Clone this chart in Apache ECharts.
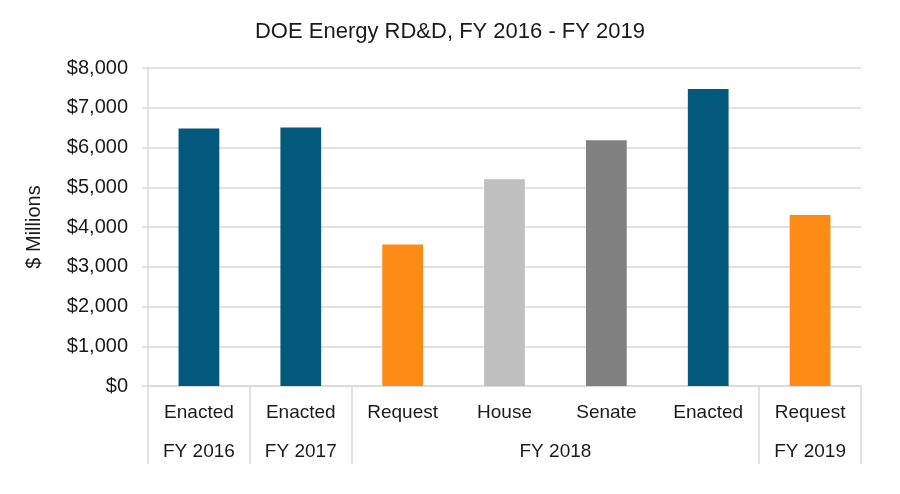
<!DOCTYPE html>
<html>
<head>
<meta charset="utf-8">
<script src="https://cdn.jsdelivr.net/npm/echarts@6/dist/echarts.min.js"></script>
<style>
html,body{margin:0;padding:0;background:#fff;}
#chart{width:900px;height:494px;}
</style>
</head>
<body>
<div id="chart"></div>
<script>
// ---- data ----
var titleText = 'DOE Energy RD&D, FY 2016 - FY 2019';
var categories = ['Enacted', 'Enacted', 'Request', 'House', 'Senate', 'Enacted', 'Request'];
var values = [6479, 6504, 3557, 5200, 6184, 7471, 4302];
var barColors = ['#02597c', '#02597c', '#fd8c16', '#bfbfbf', '#808080', '#02597c', '#fd8c16'];
var groupLabels = ['FY 2016', 'FY 2017', 'FY 2018', 'FY 2019'];
var groupSpans = [1, 1, 4, 1];
var yTicks = { min: 0, max: 8000, interval: 1000 };
var yName = '$ Millions';

// ---- build group axis (half-category slots) ----
var slots = [];
var boundaries = [];
for (var i = 0; i <= categories.length * 2; i++) slots.push('');
var start = 0;
boundaries.push(0);
for (var g = 0; g < groupLabels.length; g++) {
  var end = start + groupSpans[g];
  slots[start + end] = groupLabels[g];
  boundaries.push(end * 2);
  start = end;
}

var font = '"Liberation Sans", Arial, sans-serif';
var chart = echarts.init(document.getElementById('chart'));
chart.setOption({
  animation: false,
  title: {
    text: titleText,
    left: 'center',
    top: 16,
    textStyle: { fontFamily: font, fontSize: 22, fontWeight: 'normal', color: '#1a1a1a' }
  },
  grid: { left: 148, right: 39, top: 68, bottom: 108, containLabel: false, outerBoundsMode: 'none' },
  xAxis: [{
    type: 'category',
    data: categories,
    position: 'bottom',
    axisLine: { show: true, lineStyle: { color: '#d9d9d9', width: 1.5 } },
    axisTick: { show: false },
    axisLabel: { interval: 0, margin: 17, fontFamily: font, fontSize: 19, color: '#1a1a1a' }
  }, {
    type: 'category',
    data: slots,
    boundaryGap: false,
    position: 'bottom',
    axisLine: { show: false },
    axisTick: {
      show: true,
      length: 78,
      interval: function (index) { return boundaries.indexOf(index) >= 0; },
      lineStyle: { color: '#d9d9d9', width: 1.5 }
    },
    axisLabel: { interval: 0, margin: 56, fontFamily: font, fontSize: 19, color: '#1a1a1a' }
  }],
  yAxis: {
    type: 'value',
    min: yTicks.min,
    max: yTicks.max,
    interval: yTicks.interval,
    name: yName,
    nameLocation: 'middle',
    nameGap: 104,
    nameTextStyle: { fontFamily: font, fontSize: 20, color: '#1a1a1a' },
    axisLine: { show: true, lineStyle: { color: '#d9d9d9', width: 1.5 } },
    axisTick: { show: true, length: 6, lineStyle: { color: '#d9d9d9', width: 1.5 } },
    splitLine: { show: true, lineStyle: { color: '#d9d9d9', width: 1.5 } },
    axisLabel: {
      margin: 20,
      fontFamily: font,
      fontSize: 20,
      color: '#1a1a1a',
      formatter: function (v) { return '$' + v.toLocaleString('en-US'); }
    }
  },
  series: [{
    type: 'bar',
    xAxisIndex: 0,
    barWidth: '40%',
    data: values.map(function (v, i) { return { value: v, itemStyle: { color: barColors[i] } }; })
  }]
});
</script>
</body>
</html>
